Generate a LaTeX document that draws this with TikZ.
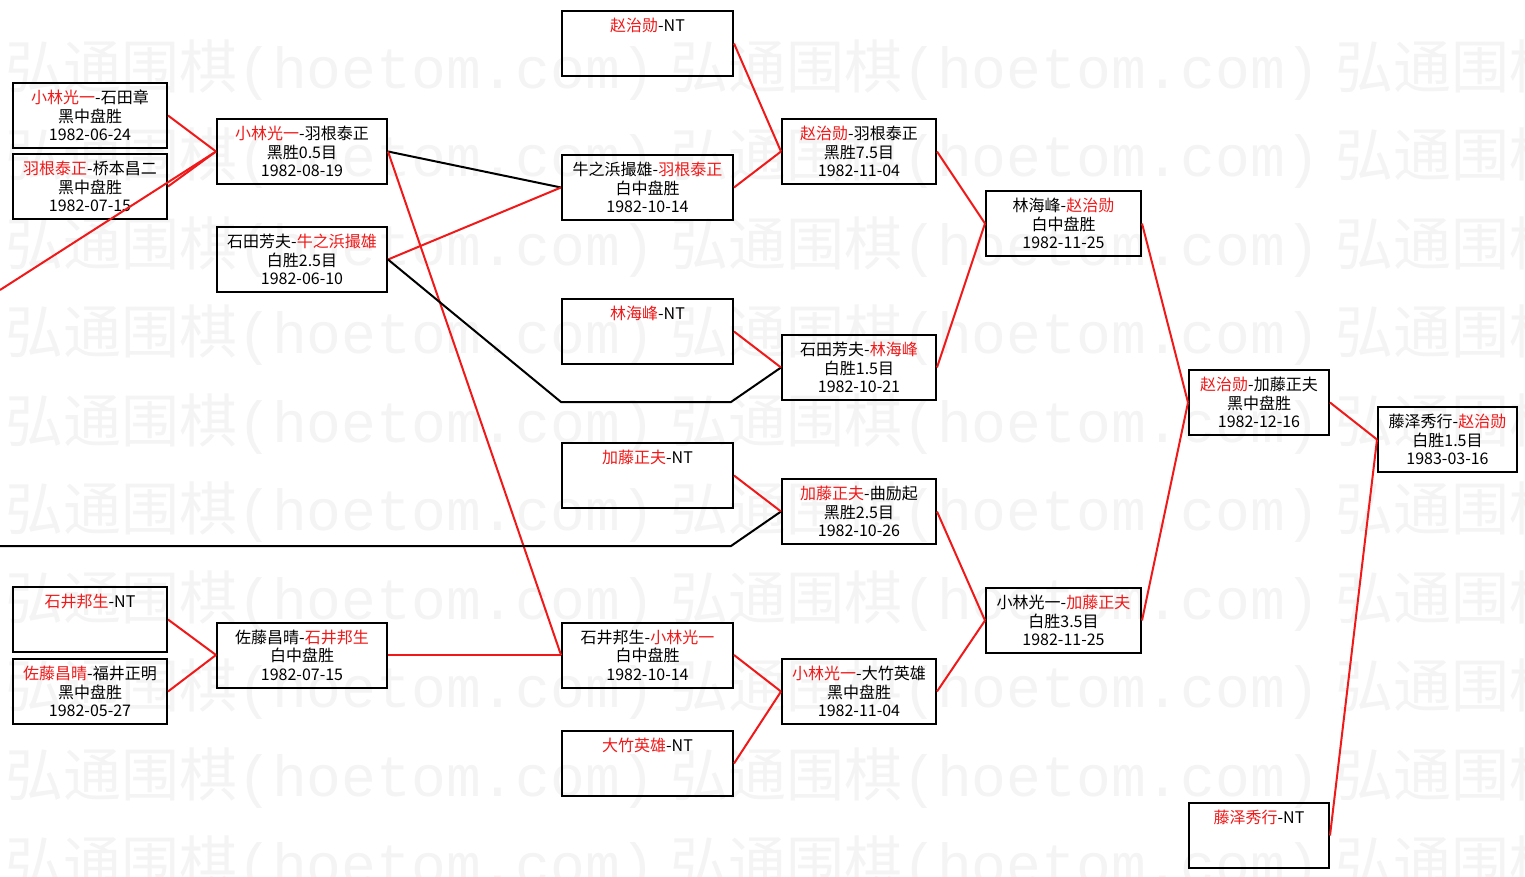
\documentclass[tikz,border=0pt]{standalone}
\usepackage{fontspec}
\setmainfont{Noto Sans CJK SC}
\newfontfamily\wmmono{Liberation Mono}
\usetikzlibrary{positioning}
\definecolor{winred}{HTML}{F01818}
\definecolor{wmgray}{HTML}{F4F4F4}

\newcommand{\wn}[1]{\textcolor{winred}{#1}}
\newcommand{\game}[3]{\rule{0pt}{19pt}#1\\#2\strut\\#3\strut}

\begin{document}
\begin{tikzpicture}[
    x=1pt, y=-1pt,
    game/.style={rectangle, draw=black, line width=2pt, text=black,
                 anchor=north west, minimum height=65pt, inner sep=0pt,
                 align=center, font=\fontsize{16}{18.5}\selectfont},
    won/.style={winred, line width=2pt},
    lost/.style={black, line width=2pt},
    wmark/.style={anchor=west, inner sep=0pt, text=wmgray,
                  font=\fontsize{58}{58}\selectfont}
]
\useasboundingbox (0,0) rectangle (1525,877);

% Watermark
\foreach \row in {0,...,9}
  \foreach \col in {0,1,2}
    \node[wmark] (wm\row\col) at (5+665*\col, 70+88.5*\row) {弘通围棋{\wmmono(hoetom.com)}};

% Round 1
\node[game, minimum width=154pt] (s1) at (12,82)  {\game{\wn{小林光一}-石田章}{黑中盘胜}{1982-06-24}};
\node[game, minimum width=154pt] (s2) at (12,153) {\game{\wn{羽根泰正}-桥本昌二}{黑中盘胜}{1982-07-15}};
\node[game, minimum width=154pt] (s3) at (12,586) {\game{\wn{石井邦生}-NT}{}{}};
\node[game, minimum width=154pt] (s4) at (12,658) {\game{\wn{佐藤昌晴}-福井正明}{黑中盘胜}{1982-05-27}};

% Round 2
\node[game, minimum width=170pt] (t1) at (216,118)   {\game{\wn{小林光一}-羽根泰正}{黑胜0.5目}{1982-08-19}};
\node[game, minimum width=170pt] (t2) at (216,226)   {\game{石田芳夫-\wn{牛之浜撮雄}}{白胜2.5目}{1982-06-10}};
\node[game, minimum width=170pt] (t3) at (216,621.5) {\game{佐藤昌晴-\wn{石井邦生}}{白中盘胜}{1982-07-15}};

% Round 3
\node[game, minimum width=171pt] (u1) at (561,10)    {\game{\wn{赵治勋}-NT}{}{}};
\node[game, minimum width=171pt] (u2) at (561,154)   {\game{牛之浜撮雄-\wn{羽根泰正}}{白中盘胜}{1982-10-14}};
\node[game, minimum width=171pt] (u3) at (561,298)   {\game{\wn{林海峰}-NT}{}{}};
\node[game, minimum width=171pt] (u4) at (561,442)   {\game{\wn{加藤正夫}-NT}{}{}};
\node[game, minimum width=171pt] (u5) at (561,621.5) {\game{石井邦生-\wn{小林光一}}{白中盘胜}{1982-10-14}};
\node[game, minimum width=171pt] (u6) at (561,730)   {\game{\wn{大竹英雄}-NT}{}{}};

% Round 4
\node[game, minimum width=154pt] (v1) at (781,118) {\game{\wn{赵治勋}-羽根泰正}{黑胜7.5目}{1982-11-04}};
\node[game, minimum width=154pt] (v2) at (781,334) {\game{石田芳夫-\wn{林海峰}}{白胜1.5目}{1982-10-21}};
\node[game, minimum width=154pt] (v3) at (781,478) {\game{\wn{加藤正夫}-曲励起}{黑胜2.5目}{1982-10-26}};
\node[game, minimum width=154pt] (v4) at (781,658) {\game{\wn{小林光一}-大竹英雄}{黑中盘胜}{1982-11-04}};

% Semi-finals
\node[game, minimum width=155pt] (w1) at (985,190) {\game{林海峰-\wn{赵治勋}}{白中盘胜}{1982-11-25}};
\node[game, minimum width=155pt] (w2) at (985,587) {\game{小林光一-\wn{加藤正夫}}{白胜3.5目}{1982-11-25}};

% Final
\node[game, minimum width=140pt] (f1) at (1188,369) {\game{\wn{赵治勋}-加藤正夫}{黑中盘胜}{1982-12-16}};
\node[game, minimum width=140pt] (f2) at (1188,802) {\game{\wn{藤泽秀行}-NT}{}{}};
\node[game, minimum width=139pt] (title) at (1377,406) {\game{藤泽秀行-\wn{赵治勋}}{白胜1.5目}{1983-03-16}};

% Free ends and bends
\coordinate (inA) at (0,290);
\coordinate (inB) at (0,546);
\coordinate (bendA) at (561,402);
\coordinate (bendB) at (731,402);
\coordinate (bendC) at (731,546);

% Connectors
\draw[won] (s1.east) -- (t1.west);
\draw[won] (s2.east) -- (t1.west);
\draw[won] (inA) -- (t1.west);
\draw[won] (s3.east) -- (t3.west);
\draw[won] (s4.east) -- (t3.west);

\draw[lost] (t1.east) -- (u2.west);
\draw[won] (t2.east) -- (u2.west);
\draw[won] (t1.east) -- (u5.west);
\draw[won] (t3.east) -- (u5.west);
\draw[lost] (t2.east) -- (bendA) -- (bendB) -- (v2.west);
\draw[lost] (inB) -- (bendC) -- (v3.west);

\draw[won] (u1.east) -- (v1.west);
\draw[won] (u2.east) -- (v1.west);
\draw[won] (u3.east) -- (v2.west);
\draw[won] (u4.east) -- (v3.west);
\draw[won] (u5.east) -- (v4.west);
\draw[won] (u6.east) -- (v4.west);

\draw[won] (v1.east) -- (w1.west);
\draw[won] (v2.east) -- (w1.west);
\draw[won] (v3.east) -- (w2.west);
\draw[won] (v4.east) -- (w2.west);

\draw[won] (w1.east) -- (f1.west);
\draw[won] (w2.east) -- (f1.west);
\draw[won] (f1.east) -- (title.west);
\draw[won] (f2.east) -- (title.west);

\end{tikzpicture}
\end{document}
